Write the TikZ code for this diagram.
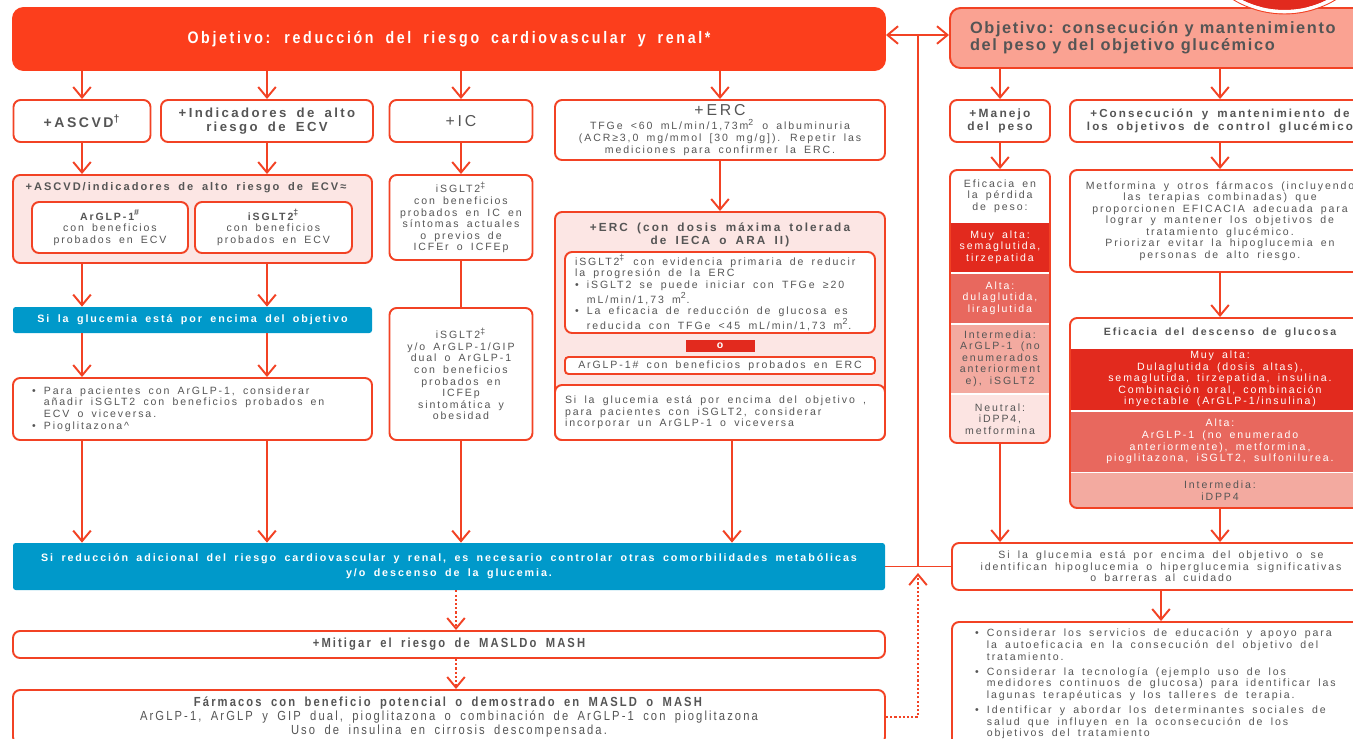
\documentclass[tikz,border=0pt]{standalone}
\usepackage{fontspec}
\setmainfont{Liberation Sans}[LetterSpace=18, WordSpace=1.7]
\newfontfamily\angosta{Liberation Sans}[FakeStretch=0.85, LetterSpace=16, WordSpace=1.8]
\newfontfamily\titular{Liberation Sans}[LetterSpace=10]
\usetikzlibrary{arrows.meta, positioning}

\definecolor{rojo}{RGB}{242,66,36}
\definecolor{rojofondo}{RGB}{252,62,28}
\definecolor{rosa}{RGB}{252,230,228}
\definecolor{salmon}{RGB}{250,162,146}
\definecolor{azul}{RGB}{0,153,202}
\definecolor{rojo1}{RGB}{226,42,30}
\definecolor{rojo2}{RGB}{232,104,94}
\definecolor{rojo3}{RGB}{243,170,160}
\definecolor{rojo4}{RGB}{252,228,226}
\definecolor{gris}{RGB}{85,85,85}

\newcommand{\chico}{\fontsize{6}{6.6}\selectfont}
\tikzstyle{caja} = [rectangle, rounded corners=4pt, draw=rojo, line width=1.1pt, fill=white, text=gris, align=center, inner sep=0pt]
\tikzstyle{izq} = [align=flush left, execute at begin node={\spaceskip=0pt\xspaceskip=0pt\relax}]
\tikzstyle{barra} = [rectangle, rounded corners=1.5pt, fill=azul, text=white, align=center, inner sep=0pt, font=\bfseries\fontsize{6.1}{8.5}\selectfont]
\tikzstyle{franja} = [rectangle, inner sep=0pt, align=center]
\tikzstyle{arrow} = [rojo, line width=1.1pt, -{Straight Barb[length=6pt,width=10pt]}]
\tikzstyle{arrowdot} = [arrow, dash pattern=on 1.2pt off 1.2pt]
\tikzstyle{linea} = [rojo, line width=1.1pt]
\tikzset{sz/.style 2 args={minimum width=#1*0.02cm, minimum height=#2*0.02cm}}

\begin{document}
\begin{tikzpicture}[x=0.02cm, y=-0.02cm, font=\chico, text=gris]
\useasboundingbox (0,0) rectangle (1353,738);
\clip (0,0) rectangle (1353,738);

% objetivos
\node (obj1) [caja, fill=rojofondo, draw=rojofondo, rounded corners=6pt, sz={872}{62}, text=white, font=\angosta\bfseries\fontsize{9.5}{11}\selectfont] at (449,39) {Objetivo: reducción del riesgo cardiovascular y renal*};
\node (obj2) [caja, fill=salmon, rounded corners=6pt, sz={420}{60}, text width=7.6cm, inner xsep=0.4cm, izq, font=\titular\bfseries\fontsize{9.3}{9.5}\selectfont] at (1160,38) {Objetivo: consecución y mantenimiento\\del peso y del objetivo glucémico};
\fill[rojo1] (1284.5,-85) circle [radius=1.9cm];
\draw[white, line width=0.07cm] (1284.5,-85) circle [radius=1.935cm];
\draw[rojo, line width=0.5pt] (1284.5,-85) circle [radius=1.98cm];

% columna izquierda
\node (ascvd) [caja, sz={137}{42}, font=\bfseries\fontsize{8}{9}\selectfont] at (82,121) {+ASCVD\textsuperscript{†}};
\node (ind) [caja, sz={212}{42}, font=\bfseries\fontsize{7.5}{8}\selectfont] at (267,121) {+Indicadores de alto\\riesgo de ECV};
\node (ic) [caja, sz={143}{42}, font=\fontsize{9}{9}\selectfont] at (461,121) {+IC};
\node (erc) [caja, sz={330}{60}] at (720,130) {{\fontsize{9}{9}\selectfont +ERC}\\[1.5pt]TFGe <60 mL/min/1,73m\textsuperscript{2} o albuminuria\\(ACR≥3,0 mg/mmol [30 mg/g]). Repetir las\\mediciones para confirmer la ERC.};

\node (grp) [caja, fill=rosa, sz={359}{88}] at (192.5,219) {};
\node (grpt) [font=\bfseries\fontsize{6.3}{7}\selectfont] at (186,188) {+ASCVD/indicadores de alto riesgo de ECV≈};
\node (glp1) [caja, sz={156}{51}] at (110,227.5) {\textbf{ArGLP-1\textsuperscript{\#}}\\con beneficios\\probados en ECV};
\node (sglt1) [caja, sz={157}{51}] at (273.5,227.5) {\textbf{iSGLT2\textsuperscript{‡}}\\con beneficios\\probados en ECV};

\node (icb1) [caja, sz={143}{85}] at (461,217.5) {iSGLT2\textsuperscript{‡}\\con beneficios\\probados en IC en\\síntomas actuales\\o previos de\\ICFEr o ICFEp};
\node (icb2) [caja, sz={143}{132}] at (461,374) {iSGLT2\textsuperscript{‡}\\y/o ArGLP-1/GIP\\dual o ArGLP-1\\con beneficios\\probados en\\ICFEp\\sintomática y\\obesidad};

\node (ercg) [caja, fill=rosa, sz={330}{228}] at (720,326) {};
\node (erct) [align=center, font=\bfseries\fontsize{6.7}{7.5}\selectfont] at (720,235) {+ERC (con dosis máxima tolerada\\de IECA o ARA II)};
\node (ercin) [caja, sz={310}{81}, text width=5.8cm, inner xsep=0.2cm, izq] at (720,292.5) {iSGLT2\textsuperscript{‡} con evidencia primaria de reducir\\la progresión de la ERC\\• iSGLT2 se puede iniciar con TFGe ≥20\\\hphantom{• }mL/min/1,73 m\textsuperscript{2}.\\• La eficacia de reducción de glucosa es\\\hphantom{• }reducida con TFGe <45 mL/min/1,73 m\textsuperscript{2}.};
\node (obar) [rectangle, fill=rojo1, sz={69}{12}, inner sep=0pt, text=white, font=\bfseries\chico] at (720,346) {o};
\node (ercglp) [caja, rounded corners=2pt, sz={310}{17}] at (720,365.5) {ArGLP-1\# con beneficios probados en ERC};
\node (ercsi) [caja, sz={330}{55}, text width=6.2cm, inner xsep=0.2cm, izq] at (720,412.5) {Si la glucemia está por encima del objetivo ,\\para pacientes con iSGLT2, considerar\\incorporar un ArGLP-1 o viceversa};

\node (azul1) [barra, sz={359}{26}] at (192.5,320) {Si la glucemia está por encima del objetivo};
\node (bul) [caja, sz={359}{62}, text width=6.42cm, inner xsep=0.38cm, izq] at (192.5,409) {• Para pacientes con ArGLP-1, considerar\\\hphantom{• }añadir iSGLT2 con beneficios probados en\\\hphantom{• }ECV o viceversa.\\• Pioglitazona\textasciicircum};

\node (azul2) [barra, sz={872}{47}] at (449,566.5) {Si reducción adicional del riesgo cardiovascular y renal, es necesario controlar otras comorbilidades metabólicas\\y/o descenso de la glucemia.};
\node (masld) [caja, sz={872}{27}, font=\angosta\bfseries\fontsize{7.5}{8}\selectfont] at (449,644.5) {+Mitigar el riesgo de MASLDo MASH};
\node (farm) [caja, sz={872}{54}, font=\angosta\fontsize{7.5}{8}\selectfont] at (449,717) {\textbf{Fármacos con beneficio potencial o demostrado en MASLD o MASH}\\ArGLP-1, ArGLP y GIP dual, pioglitazona o combinación de ArGLP-1 con pioglitazona\\Uso de insulina en cirrosis descompensada.};

% columna derecha
\node (manejo) [caja, sz={100}{42}, font=\bfseries\fontsize{6.8}{7.5}\selectfont] at (1000,121) {+Manejo\\del peso};
\node (consec) [caja, sz={300}{42}, font=\bfseries\fontsize{6.6}{7.5}\selectfont] at (1220,121) {+Consecución y mantenimiento de\\los objetivos de control glucémico};

\begin{scope}
\clip [rounded corners=4pt] (950,170) rectangle (1050,443);
\fill[white] (950,170) rectangle (1050,443);
\node (pw0) [franja, sz={100}{52}] at (1000,196) {Eficacia en\\la pérdida\\de peso:};
\node (pw1) [franja, fill=rojo1, text=white, sz={100}{49}] at (1000,247) {Muy alta:\\semaglutida,\\tirzepatida};
\node (pw2) [franja, fill=rojo2, text=white, sz={100}{49}] at (1000,298) {Alta:\\dulaglutida,\\liraglutida};
\node (pw3) [franja, fill=rojo3, sz={100}{68}] at (1000,358.5) {Intermedia:\\ArGLP-1 (no\\enumerados\\anteriorment\\e), iSGLT2};
\node (pw4) [franja, fill=rojo4, sz={100}{49}] at (1000,419) {Neutral:\\iDPP4,\\metformina};
\end{scope}
\node (peso) [caja, fill=none, sz={100}{273}] at (1000,306.5) {};

\node (metf) [caja, sz={300}{102}] at (1220,221) {Metformina y otros fármacos (incluyendo\\las terapias combinadas) que\\proporcionen EFICACIA adecuada para\\lograr y mantener los objetivos de\\tratamiento glucémico.\\Priorizar evitar la hipoglucemia en\\personas de alto riesgo.};

\begin{scope}
\clip [rounded corners=4pt] (1070,318) rectangle (1370,508);
\fill[white] (1070,318) rectangle (1370,508);
\node (gt) [franja, sz={300}{30}, font=\bfseries\chico] at (1220,333) {Eficacia del descenso de glucosa};
\node (g1) [franja, fill=rojo1, text=white, sz={300}{61}] at (1220,379) {Muy alta:\\Dulaglutida (dosis altas),\\semaglutida, tirzepatida, insulina.\\Combinación oral, combinación\\inyectable (ArGLP-1/insulina)};
\node (g2) [franja, fill=rojo2, text=white, sz={300}{60}] at (1220,441.5) {Alta:\\ArGLP-1 (no enumerado\\anteriormente), metformina,\\pioglitazona, iSGLT2, sulfonilurea.};
\node (g3) [franja, fill=rojo3, sz={300}{35}] at (1220,490.5) {Intermedia:\\iDPP4};
\end{scope}
\node (gluc) [caja, fill=none, sz={300}{190}] at (1220,413) {};

\node (sig) [caja, sz={418}{47}] at (1161,566.5) {Si la glucemia está por encima del objetivo o se\\identifican hipoglucemia o hiperglucemia significativas\\o barreras al cuidado};
\node (cons) [caja, sz={418}{124}, text width=7.44cm, inner xsep=0.46cm, izq] at (1161,684) {• Considerar los servicios de educación y apoyo para\\\hphantom{• }la autoeficacia en la consecución del objetivo del\\\hphantom{• }tratamiento.\\[2pt]• Considerar la tecnología (ejemplo uso de los\\\hphantom{• }medidores continuos de glucosa) para identificar las\\\hphantom{• }lagunas terapéuticas y los talleres de terapia.\\[2pt]• Identificar y abordar los determinantes sociales de\\\hphantom{• }salud que influyen en la oconsecución de los\\\hphantom{• }objetivos del tratamiento};

% conectores
\coordinate (arriba) at (918,35);
\coordinate (cruce) at (918,566.5);
\coordinate (cruce2) at (918,573);
\draw [linea] (arriba) -- (cruce);
\draw [arrow] (arriba) -- (obj1.east |- arriba);
\draw [arrow] (arriba) -- (obj2.west |- arriba);
\draw [linea] (azul2.east) -- (sig.west);
\draw [arrowdot] (farm.east) -| (cruce2);

\draw [arrow] (obj1.south -| ascvd) -- (ascvd);
\draw [arrow] (obj1.south -| ind) -- (ind);
\draw [arrow] (obj1.south -| ic) -- (ic);
\draw [arrow] (obj1.south -| erc) -- (erc);
\draw [arrow] (ascvd) -- (ascvd |- grp.north);
\draw [arrow] (ind) -- (ind |- grp.north);
\draw [arrow] (ic) -- (icb1);
\draw [linea] (icb1) -- (icb2);
\draw [arrow] (erc) -- (ercg);
\draw [arrow] (ascvd |- grp.south) -- (ascvd |- azul1.north);
\draw [arrow] (ind |- grp.south) -- (ind |- azul1.north);
\draw [arrow] (ascvd |- azul1.south) -- (ascvd |- bul.north);
\draw [arrow] (ind |- azul1.south) -- (ind |- bul.north);
\draw [arrow] (ascvd |- bul.south) -- (ascvd |- azul2.north);
\draw [arrow] (ind |- bul.south) -- (ind |- azul2.north);
\draw [arrow] (icb2) -- (icb2 |- azul2.north);
\draw [arrow] ([xshift=0.24cm]ercsi.south) -- ([xshift=0.24cm]ercsi.south |- azul2.north);
\draw [arrowdot] ([xshift=0.14cm]azul2.south) -- ([xshift=0.14cm]masld.north);
\draw [arrowdot] ([xshift=0.14cm]masld.south) -- ([xshift=0.14cm]farm.north);

\draw [arrow] (obj2.south -| manejo) -- (manejo);
\draw [arrow] (obj2.south -| consec) -- (consec);
\draw [arrow] (manejo) -- (peso);
\draw [arrow] (consec) -- (metf);
\draw [arrow] (metf) -- (gluc);
\draw [arrow] (peso) -- (peso |- sig.north);
\draw [arrow] (gluc) -- (gluc |- sig.north);
\draw [arrow] (sig) -- (cons);
\end{tikzpicture}
\end{document}
